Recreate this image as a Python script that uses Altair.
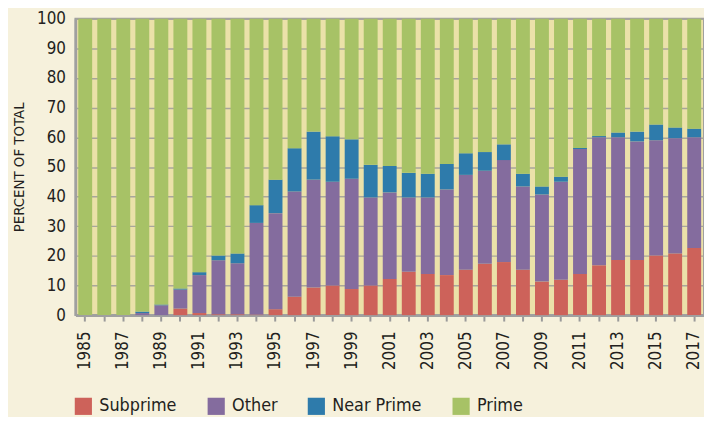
import altair as alt
import pandas as pd

years = list(range(1985, 2018))
subprime = [0, 0, 0, 0, 0, 2.2, 0.7, 0.3, 0.3, 0.2, 2.0, 6.2, 9.3, 10.0, 8.8, 10.0,
            12.2, 14.6, 13.9, 13.5, 15.3, 17.3, 17.9, 15.3, 11.3, 11.9, 13.9, 16.8,
            18.6, 18.6, 20.1, 20.8, 22.6]
other = [0, 0, 0, 0.7, 3.3, 6.4, 12.8, 18.2, 17.2, 30.9, 32.4, 35.5, 36.4, 35.0, 37.2, 29.7,
         29.2, 25.1, 25.8, 28.9, 32.0, 31.4, 34.4, 28.1, 29.4, 33.1, 42.1, 43.2,
         41.4, 40.0, 38.9, 38.9, 37.4]
near_prime = [0, 0, 0, 0.5, 0.3, 0.4, 1.0, 1.6, 3.3, 6.0, 11.3, 14.6, 16.2, 15.3, 13.3, 11.0,
              8.9, 8.3, 8.0, 8.6, 7.3, 6.3, 5.3, 4.3, 2.7, 1.7, 0.4, 0.4,
              1.6, 3.3, 5.3, 3.6, 2.9]
categories = ["Subprime", "Other", "Near Prime", "Prime"]
colors = ["#CD625A", "#846C9E", "#2E7BAB", "#A7C266"]

rows = []
for i, y in enumerate(years):
    prime = round(100 - subprime[i] - other[i] - near_prime[i], 2)
    vals = [subprime[i], other[i], near_prime[i], prime]
    for k, c in enumerate(categories):
        rows.append({"year": y, "category": c, "value": vals[k], "ord": k})
df = pd.DataFrame(rows)

font = "Liberation Sans Narrow, DejaVu Sans Condensed, Open Sans"

chart = alt.Chart(df).mark_bar().encode(
    x=alt.X("year:O", title=None,
            scale=alt.Scale(paddingInner=0.27, paddingOuter=0.15),
            axis=alt.Axis(labelAngle=270, labelAlign="right", labelBaseline="middle",
                          labelExpr="datum.value % 2 == 1 ? datum.label : ''",
                          labelFontSize=17, labelColor="#231F20", labelPadding=10,
                          tickColor="#9A9A9A", tickSize=6, tickWidth=2,
                          domainColor="#A0A0A0", domainWidth=3, labelFont=font)),
    y=alt.Y("value:Q", stack="zero", title="PERCENT OF TOTAL",
            scale=alt.Scale(domain=[0, 100], nice=False),
            axis=alt.Axis(values=list(range(0, 101, 10)), labelFontSize=17,
                          labelColor="#231F20", labelPadding=10, ticks=False,
                          domainColor="#A0A0A0", domainWidth=2.5,
                          gridColor="#A8A69C", gridWidth=1.5,
                          titleFontSize=15, titleFontWeight="normal",
                          titleColor="#231F20", titlePadding=10,
                          labelFont=font, titleFont=font)),
    color=alt.Color("category:N",
                    scale=alt.Scale(domain=categories, range=colors),
                    legend=alt.Legend(title=None, orient="none", direction="horizontal",
                                      legendX=-1, legendY=382,
                                      symbolType="square", symbolSize=300,
                                      symbolStrokeWidth=0, symbolOpacity=1,
                                      labelFontSize=18, labelColor="#231F20",
                                      labelFont=font, columnPadding=30,
                                      labelOffset=7)),
    order=alt.Order("ord:Q", sort="ascending"),
).properties(
    width=634, height=299,
    background="#F6F1DC",
    padding={"left": 68, "top": 9, "right": 0, "bottom": 101},
    autosize=alt.AutoSizeParams(type="none"),
).configure_view(
    fill="#EBE1A9", stroke="#A0A0A0", strokeWidth=2
)

chart.save("out.html", embed_options={"renderer": "svg", "actions": False})
